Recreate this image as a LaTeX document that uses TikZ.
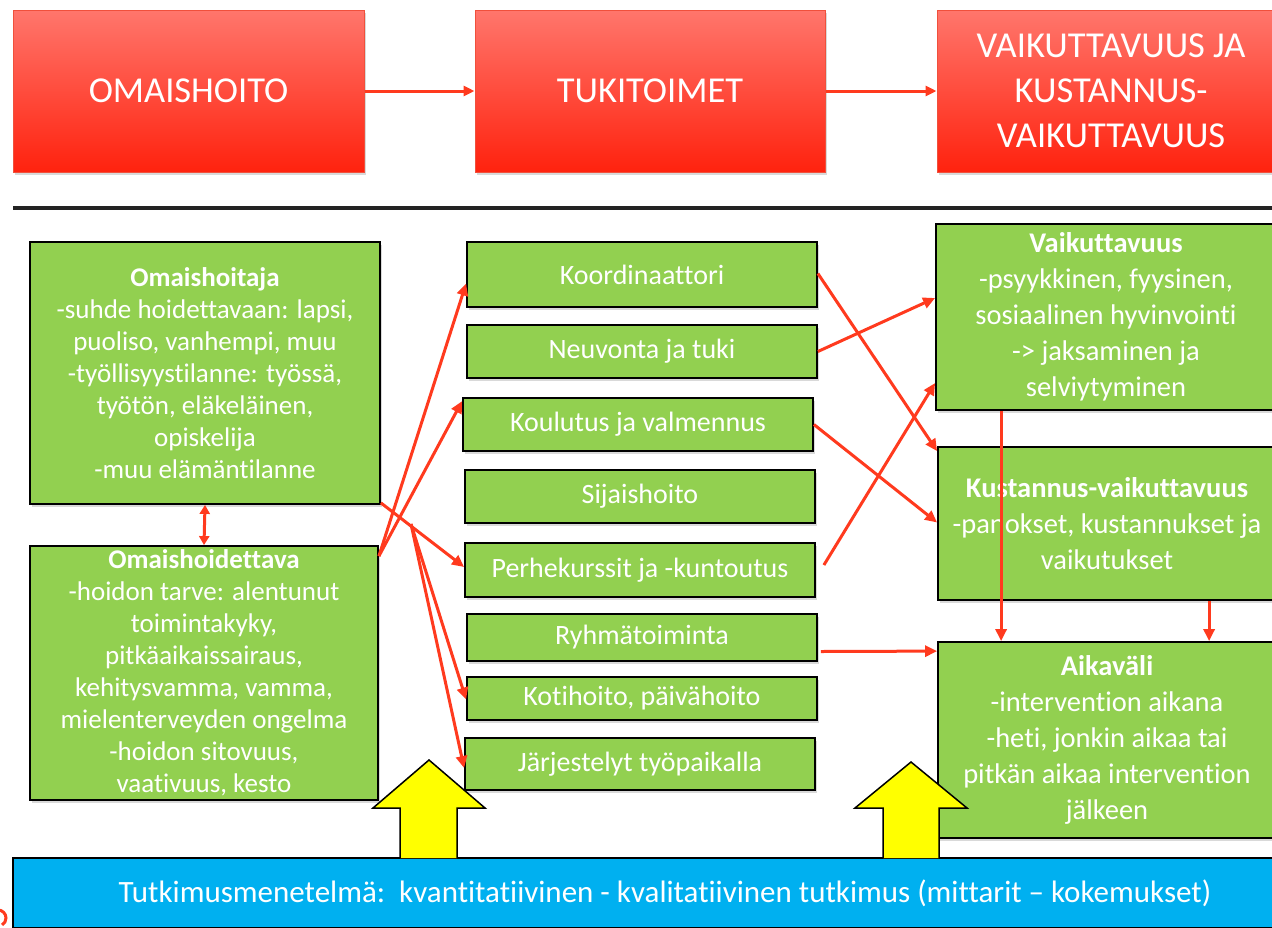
\documentclass[tikz,border=0pt]{standalone}
\usepackage{fontspec}
\setmainfont{Carlito}[Ligatures=NoCommon]
\usetikzlibrary{arrows.meta,shadows}
\definecolor{gfill}{RGB}{146,208,80}
\definecolor{rtop}{RGB}{255,118,108}
\definecolor{rbot}{RGB}{255,34,14}
\definecolor{rborder}{RGB}{240,80,60}
\definecolor{arr}{RGB}{255,58,30}
\definecolor{bfill}{RGB}{0,176,240}
\definecolor{sepcol}{RGB}{35,35,35}
\definecolor{yfill}{RGB}{255,255,0}
\begin{document}
\begin{tikzpicture}[x=1pt,y=-1pt,
  gbox/.style={draw=black, line width=1.8pt, fill=gfill, text=white, inner sep=0pt, align=center,
    drop shadow={opacity=0.3, shadow xshift=2pt, shadow yshift=-3pt}},
  leftfont/.style={font=\fontsize{27}{32}\selectfont},
  midfont/.style={font=\fontsize{28}{32}\selectfont},
  rightfont/.style={font=\fontsize{28.5}{36}\selectfont},
  rbox/.style={draw=rborder, line width=1pt, top color=rtop, bottom color=rbot, text=white, inner sep=0pt,
    align=center, font=\fontsize{36.5}{45}\selectfont,
    drop shadow={opacity=0.3, shadow xshift=2pt, shadow yshift=-3pt}},
  rarrow/.style={draw=arr, line width=3pt, -{Triangle[length=12pt,width=11pt]}},
  tarrow/.style={draw=arr, line width=3pt, -{Triangle[length=11pt,width=10pt]}},
  yarrow/.style={draw=black, line width=1.5pt, fill=yfill, line join=miter},
]
\useasboundingbox (0,0) rectangle (1272,927);

% top row
\node[rbox, minimum width=351pt, minimum height=162pt] (t1) at (188.5,91) {OMAISHOITO};
\node[rbox, minimum width=350pt, minimum height=162pt] (t2) at (650,91) {TUKITOIMET};
\node[rbox, minimum width=348pt, minimum height=162pt] (t3) at (1111,91) {VAIKUTTAVUUS JA\\KUSTANNUS-\\VAIKUTTAVUUS};
\draw[tarrow] (t1.east) -- (t2.west);
\draw[tarrow] (t2.east) -- (t3.west);

% separator
\coordinate (sepL) at (13,208);
\coordinate (sepR) at (1290,208);
\draw[sepcol, line width=4pt] (sepL) -- (sepR);

% left boxes
\node[gbox, leftfont, minimum width=350pt, minimum height=262pt] (omh) at (205,373)
 {\textbf{Omaishoitaja}\\-suhde hoidettavaan: lapsi,\\puoliso, vanhempi, muu\\-työllisyystilanne: työssä,\\työtön, eläkeläinen,\\opiskelija\\-muu elämäntilanne};
\node[gbox, leftfont, minimum width=348pt, minimum height=254pt] (omd) at (204,673)
 {\textbf{Omaishoidettava}\\-hoidon tarve: alentunut\\toimintakyky,\\pitkäaikaissairaus,\\kehitysvamma, vamma,\\mielenterveyden ongelma\\-hoidon sitovuus,\\vaativuus, kesto};
\draw[draw=arr, line width=3pt, {Triangle[length=9pt,width=10pt]}-{Triangle[length=9pt,width=10pt]}] (omh.south) -- (omd.north);

% middle boxes
\node[gbox, midfont, minimum width=350pt, minimum height=65pt] (koord) at (642,274.5) {Koordinaattori};
\node[gbox, midfont, minimum width=350pt, minimum height=53pt] (neuv) at (642,351.5) {Neuvonta ja tuki};
\node[gbox, midfont, minimum width=350pt, minimum height=53pt] (koul) at (638,424.5) {Koulutus ja valmennus};
\node[gbox, midfont, minimum width=350pt, minimum height=53pt] (sija) at (640,496.5) {Sijaishoito};
\node[gbox, midfont, minimum width=350pt, minimum height=54pt] (perhe) at (640,570) {Perhekurssit ja -kuntoutus};
\node[gbox, midfont, minimum width=350pt, minimum height=47pt] (ryhma) at (642,637.5) {Ryhmätoiminta};
\node[gbox, midfont, minimum width=350pt, minimum height=43pt] (koti) at (642,698.5) {Kotihoito, päivähoito};
\node[gbox, midfont, minimum width=350pt, minimum height=52pt] (jarj) at (640,764) {Järjestelyt työpaikalla};

% right boxes
\node[gbox, rightfont, minimum width=340pt, minimum height=186pt] (vaik) at (1106,317)
 {\textbf{Vaikuttavuus}\\-psyykkinen, fyysinen,\\sosiaalinen hyvinvointi\\-> jaksaminen ja\\selviytyminen};
\node[gbox, rightfont, minimum width=338pt, minimum height=153pt] (kust) at (1107,523.5)
 {\textbf{Kustannus-vaikuttavuus}\\-panokset, kustannukset ja\\vaikutukset};
\node[gbox, rightfont, minimum width=338pt, minimum height=196pt] (aika) at (1107,740)
 {\textbf{Aikaväli}\\-intervention aikana\\-heti, jonkin aikaa tai\\pitkän aikaa intervention\\jälkeen};

% bottom blue bar
\node[draw=black, line width=1.5pt, fill=bfill, text=white, inner sep=0pt,
  minimum width=1304pt, minimum height=70pt, font=\fontsize{31}{36}\selectfont] (meth) at (665,893)
 {Tutkimusmenetelmä:\ \ kvantitatiivinen - kvalitatiivinen tutkimus (mittarit – kokemukset)};

% yellow arrows
\draw[yarrow] (400,858) -- (400,808) -- (373,808) -- (429,760) -- (485,808) -- (457,808) -- (457,858);
\draw[yarrow] (883,858) -- (883,808) -- (855,808) -- (911,762) -- (967,808) -- (939,808) -- (939,858);

% crossing point
\coordinate (X) at (411,524);

% left to middle arrows
\draw[rarrow] ([yshift=-11pt]omd.north east) -- ([yshift=-9pt]koord.west);
\draw[rarrow] ([yshift=-11pt]omd.north east) -- ([yshift=-4pt]koul.north west);
\draw[rarrow] ([yshift=2pt]omh.south east) -- ([yshift=3pt]perhe.west);
\draw[rarrow] (X) -- ([yshift=-1pt]koti.west);
\draw[rarrow] (X) -- ([yshift=-4pt]jarj.west);

% middle to right arrows
\draw[rarrow] ([yshift=1pt]koord.east) -- ([yshift=-5pt]kust.north west);
\draw[rarrow] (neuv.east) -- ([yshift=19pt]vaik.west);
\draw[rarrow] (koul.east) -- ([yshift=1pt]kust.west);
\draw[rarrow] ([xshift=8pt,yshift=5pt]perhe.east) -- ([yshift=-66pt]vaik.west);
\draw[rarrow] ([xshift=3pt,yshift=-14pt]ryhma.east) -- ([yshift=-10pt]aika.north west);

% right column down arrows
\draw[rarrow] ([xshift=66pt]vaik.south west) -- ([xshift=64pt]aika.north west);
\draw[rarrow] ([xshift=272pt]kust.south west) -- ([xshift=272pt]aika.north west);

% partial red mark at bottom-left edge
\draw[arr, line width=3pt] (-2,910) arc[start angle=90, end angle=-60, radius=8pt];
\end{tikzpicture}
\end{document}
